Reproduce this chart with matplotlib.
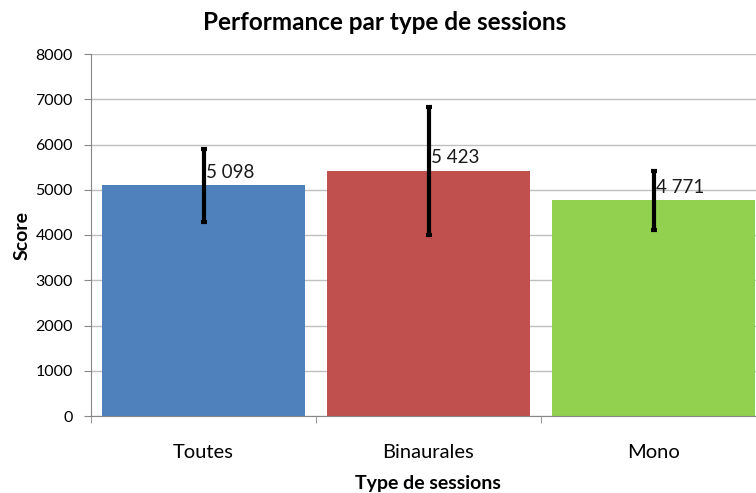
import numpy as np
import matplotlib
matplotlib.use("Agg")
import matplotlib.pyplot as plt

# données
categories = ["Toutes", "Binaurales", "Mono"]
scores = [5098, 5423, 4771]
erreurs = [800, 1415, 650]
couleurs = ["#4F81BD", "#C0504D", "#92D050"]
etiquettes = ["5 098", "5 423", "4 771"]
yticks = [0, 1000, 2000, 3000, 4000, 5000, 6000, 7000, 8000]

plt.rcParams["font.family"] = ["Lato", "DejaVu Sans"]

fig = plt.figure(figsize=(7.56, 4.93), dpi=100)
W, H = 756, 493
# zone de tracé (dépasse à droite comme sur l'original)
ax = fig.add_axes([91 / W, 77 / H, 675 / W, 362 / H])

x = np.arange(len(categories))
ax.bar(x, scores, width=0.9, color=couleurs, zorder=2)
ax.errorbar(x, scores, yerr=erreurs, fmt="none", ecolor="black",
            elinewidth=3, capsize=2.5, capthick=3, zorder=3)

for xi, val, lab in zip(x, scores, etiquettes):
    ax.annotate(lab, (xi, val), xytext=(2, 3), textcoords="offset points",
                ha="left", va="bottom", fontsize=13.5, color="#1a1a1a", zorder=4)

ax.set_xlim(-0.5, len(categories) - 0.5)
ax.set_ylim(0, 8000)
ax.set_yticks(yticks)
ax.set_yticklabels([str(v) for v in yticks], fontsize=11.5)
ax.set_xticks(x)
ax.set_xticklabels(categories, fontsize=14.5)
ax.set_xticks(np.arange(len(categories) + 1) - 0.5, minor=True)

ax.yaxis.grid(True, color="#BFBFBF", linewidth=1, zorder=0)
ax.set_axisbelow(True)
for s in ["top", "right"]:
    ax.spines[s].set_visible(False)
for s in ["left", "bottom"]:
    ax.spines[s].set_color("#868686")

ax.tick_params(axis="y", length=5, color="#868686", pad=8)
ax.tick_params(axis="x", which="major", length=0, pad=20)
ax.tick_params(axis="x", which="minor", length=5, color="#868686")

fig.text(385 / W, 1 - 22 / H, "Performance par type de sessions",
         ha="center", va="center", fontsize=17.5, fontweight="bold")
fig.text(22 / W, 1 - 235 / H, "Score", rotation=90,
         ha="center", va="center", fontsize=14, fontweight="bold")
fig.text(428 / W, 1 - 483 / H, "Type de sessions",
         ha="center", va="center", fontsize=14, fontweight="bold")

fig.savefig("out.png", dpi=100)
